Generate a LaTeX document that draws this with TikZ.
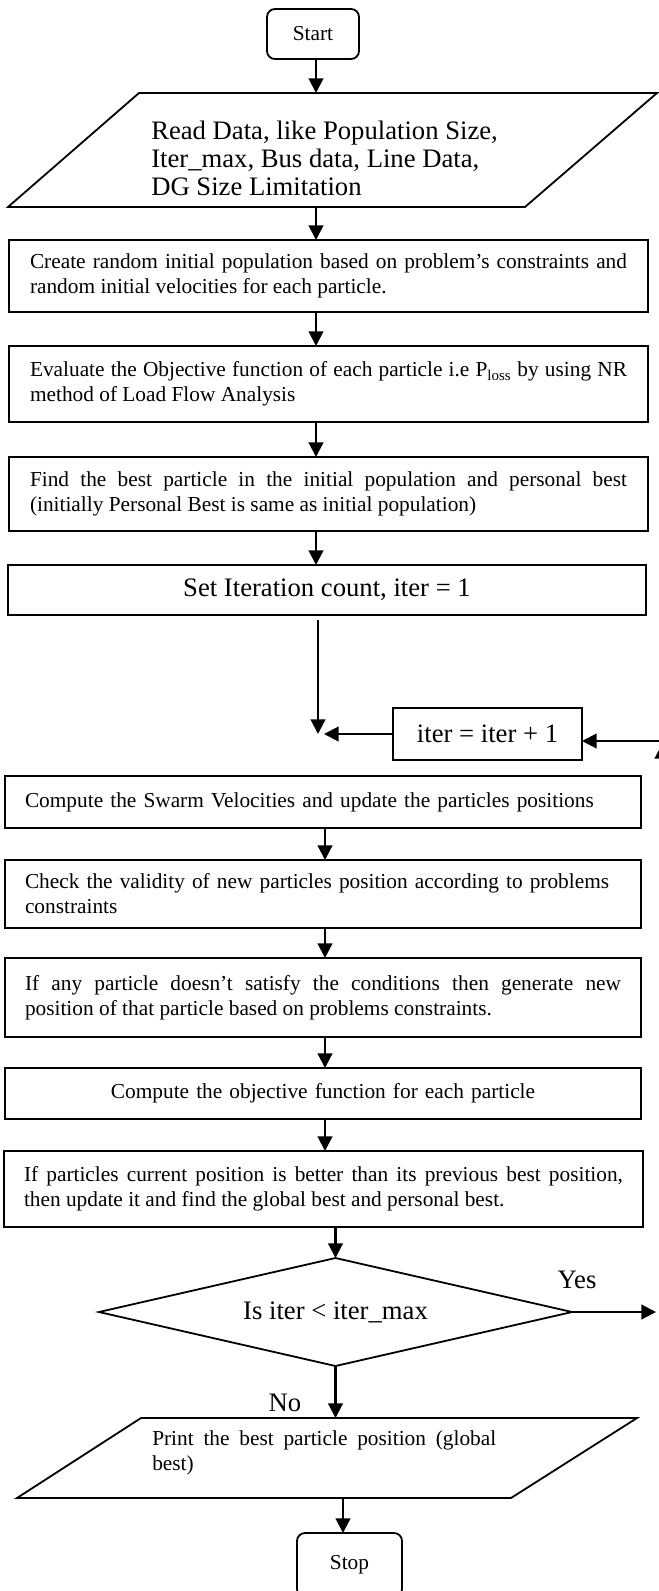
\documentclass[tikz,border=0pt]{standalone}
\usepackage{fontspec}
\setmainfont{Liberation Serif}
\usetikzlibrary{shapes.geometric,arrows.meta}
\tolerance=10000
\hyphenpenalty=10000
\tikzset{
  base/.style={draw, line width=1.35pt, inner sep=0pt, outer sep=0pt},
  term/.style={base, rounded corners=6pt, font=\fontsize{16pt}{19pt}\selectfont},
  pbox/.style={base, rectangle, font=\fontsize{16pt}{18.75pt}\selectfont, text width=#1},
  bigbox/.style={base, rectangle, align=center, font=\fontsize{20pt}{24pt}\selectfont},
  ghost/.style={inner sep=0pt, outer sep=0pt},
  bigtxt/.style={inner sep=0pt, font=\fontsize{20pt}{24pt}\selectfont},
  arr/.style={line width=1.6pt, -{Triangle[length=11pt,width=11pt]}},
  para/.style={line width=1.35pt}
}
\begin{document}
\begin{tikzpicture}[x={(0.75pt,0)}, y={(0,-0.75pt)}]
\useasboundingbox (0,0) rectangle (659,1591);
\fill[white] (0,0) rectangle (659,1591);
\clip (0,0) rectangle (659,1591);

% column coordinates
\coordinate (cA) at (316,0);
\coordinate (cB) at (325,0);
\coordinate (cC) at (335.5,0);
\coordinate (cD) at (343,0);

% nodes
\node[term, minimum width=69pt, minimum height=37.5pt] (start) at (313,34) {Start};

\node[ghost, minimum width=486.75pt, minimum height=85.5pt] (read) at (332.5,150) {};
\draw[para] (read.south west) -- ([xshift=387.75pt]read.south west) -- (read.north east) -- ([xshift=-388.5pt]read.north east) -- cycle;
\node[anchor=west, align=left, inner sep=0pt, font=\fontsize{20pt}{21pt}\selectfont] (readtxt) at (151,158)
  {Read Data, like Population Size,\\Iter\_max, Bus data, Line Data,\\DG Size Limitation};

\node[pbox=447.75pt, align=justify, minimum width=479.25pt, minimum height=54pt] (create) at (328.5,276)
  {Create random initial population based on problem's constraints and\linebreak random initial velocities for each particle.};

\node[pbox=447.75pt, align=justify, minimum width=479.25pt, minimum height=57pt] (evaluate) at (328.5,384)
  {Evaluate the Objective function of each particle i.e P\textsubscript{loss} by using NR\linebreak method of Load Flow Analysis};

\node[pbox=447.75pt, align=justify, minimum width=479.25pt, minimum height=55.5pt] (find) at (328.5,494)
  {Find the best particle in the initial population and personal best\linebreak (initially Personal Best is same as initial population)};

\node[bigbox, minimum width=478.5pt, minimum height=37.5pt] (set) at (327,590) {Set Iteration count, iter = 1};

\node[bigbox, minimum width=141.75pt, minimum height=39pt] (iter) at (487.5,734) {iter = iter + 1};

\node[pbox=447pt, align=left, minimum width=477pt, minimum height=39pt] (swarm) at (323,802)
  {Compute the Swarm Velocities and update the particles positions};

\node[pbox=447pt, align=left, minimum width=477pt, minimum height=51pt] (check) at (323,894)
  {Check the validity of new particles position according to problems\\constraints};

\node[pbox=447pt, align=justify, minimum width=477pt, minimum height=59.25pt] (ifany) at (323,997.5)
  {If any particle doesn't satisfy the conditions then generate new\linebreak position of that particle based on problems constraints.};

\node[pbox=447pt, align=center, minimum width=477pt, minimum height=38.25pt] (objective) at (323,1093.5)
  {Compute the objective function for each particle};

\node[pbox=449.25pt, align=justify, minimum width=479.25pt, minimum height=57pt] (ifpart) at (323.5,1189)
  {If particles current position is better than its previous best position,\linebreak then update it and find the global best and personal best.};

\node[base, diamond, aspect=4.4, minimum width=354.75pt, minimum height=81pt, font=\fontsize{20pt}{24pt}\selectfont] (dec) at (335.5,1312) {Is iter < iter\_max};

\node[bigtxt] (yes) at (577,1280) {Yes};
\node[bigtxt] (no) at (285,1403) {No};

\node[ghost, minimum width=465pt, minimum height=60pt] (print) at (327,1458) {};
\draw[para] (print.south west) -- ([xshift=370.5pt]print.south west) -- (print.north east) -- ([xshift=-372pt]print.north east) -- cycle;
\node[anchor=west, text width=258pt, align=justify, inner sep=0pt, font=\fontsize{16pt}{18.75pt}\selectfont] (printtxt) at (152,1452.5)
  {Print the best particle position (global\linebreak best)};

\node[term, minimum width=78.75pt, minimum height=48pt] (stop) at (349.5,1565) {Stop};

% connectors
\draw[arr] (start.south -| cA) -- (read.north -| cA);
\draw[arr] (read.south -| cA) -- (create.north -| cA);
\draw[arr] (create.south -| cA) -- (evaluate.north -| cA);
\draw[arr] (evaluate.south -| cA) -- (find.north -| cA);
\draw[arr] (find.south -| cA) -- (set.north -| cA);

\coordinate (junc) at (318,734);
\coordinate (junc2) at (324,734);
\draw[arr] ([yshift=-3.75pt]set.south -| junc) -- (junc);
\draw[arr] (iter.west) -- (iter.west -| junc2);
\coordinate (rin) at (662,741);
\draw[arr] (rin) -- (rin -| iter.east);

\draw[arr] (swarm.south -| cB) -- (check.north -| cB);
\draw[arr] (check.south -| cB) -- (ifany.north -| cB);
\draw[arr] (ifany.south -| cB) -- (objective.north -| cB);
\draw[arr] (objective.south -| cB) -- (ifpart.north -| cB);
\draw[arr] (ifpart.south -| cC) -- (dec.north);
\draw[arr] (dec.south) -- (print.north -| dec.south);

\coordinate (yestip) at (656,1312);
\draw[arr] (dec.east) -- (yestip);
\coordinate (loopb) at (662,1312);
\coordinate (loopt) at (662,744);
\draw[arr] (loopb) -- (loopt);

\draw[arr] (print.south -| cD) -- (stop.north -| cD);
\end{tikzpicture}
\end{document}
